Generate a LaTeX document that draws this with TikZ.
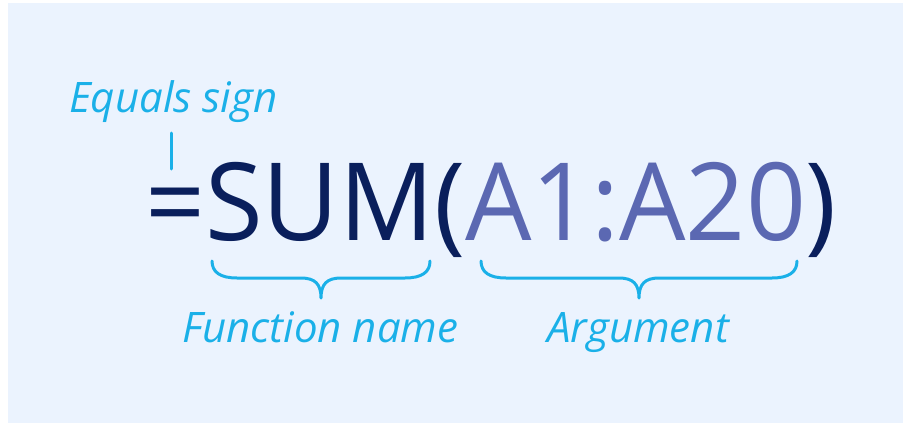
\documentclass[tikz,border=0pt]{standalone}
\usepackage{fontspec}
\setmainfont{Open Sans}
\definecolor{bgblue}{HTML}{EBF3FE}
\definecolor{navy}{HTML}{0A1F5C}
\definecolor{argpurple}{HTML}{5B68B2}
\definecolor{labcyan}{HTML}{1AB0E8}
\tikzset{
  label text/.style={font=\fontsize{42}{42}\selectfont\itshape, text=labcyan, inner sep=0pt, anchor=base west},
  brace line/.style={draw=labcyan, line width=3pt, line cap=round, line join=round},
}
\begin{document}
\begin{tikzpicture}[x=1pt,y=-1pt]
\useasboundingbox (0,0) rectangle (903,423);
\fill[white] (0,0) rectangle (903,423);
\fill[bgblue] (8,3) rectangle (903,423);
% formula
\node[inner sep=0pt, anchor=base west, xscale=0.972, font=\fontsize{108}{108}\selectfont] (formula) at (145,240)
  {\textcolor{navy}{=SUM(}\textcolor{argpurple}{A1:A20}\textcolor{navy}{)}};
% labels
\node[label text] (eqlabel) at (69,112) {Equals sign};
\node[label text] (fnlabel) at (182,342) {Function name};
\node[label text] (arglabel) at (547,342) {Argument};
% tick
\coordinate (tickTop) at (171,133);
\coordinate (tickBot) at (171,169);
\draw[brace line] (tickTop) -- (tickBot);
% braces
\foreach \a/\b/\m in {212/430/321, 481/797/639}{
  \draw[brace line] (\a,261) .. controls (\a,272) and (\a+8,278) .. (\a+25,278)
    -- (\m-20,278) .. controls (\m-6,278) and (\m,284) .. (\m,298)
    .. controls (\m,284) and (\m+6,278) .. (\m+20,278)
    -- (\b-25,278) .. controls (\b-8,278) and (\b,272) .. (\b,261);
}
\end{tikzpicture}
\end{document}
